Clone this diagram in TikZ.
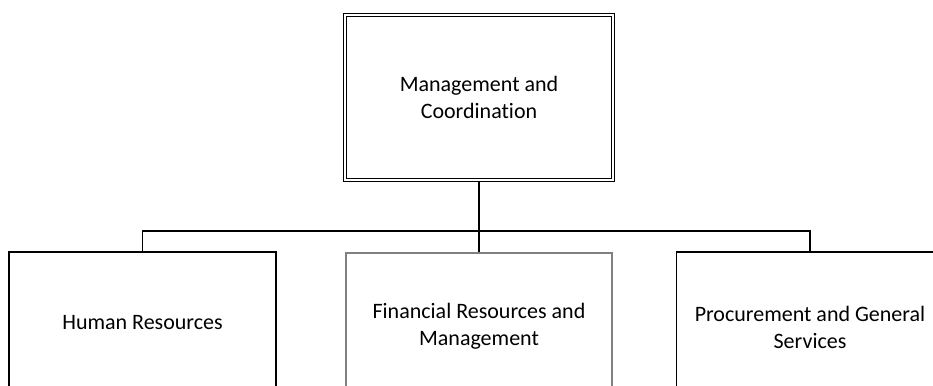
\documentclass[tikz,border=0pt]{standalone}
\usepackage{fontspec}
\setmainfont[Ligatures=NoCommon]{Carlito}
\begin{document}
\begin{tikzpicture}[x=1pt,y=-1pt,
  box/.style={draw, line width=1.1pt, rectangle, align=center, inner sep=0pt,
    font=\fontsize{22}{27}\selectfont},
  conn/.style={draw, line width=1.1pt}]
\useasboundingbox (0,0) rectangle (933,385);
\clip (0,0) rectangle (933,385);
\node[box, double, double distance=2.4pt, line width=1.2pt,
  minimum width=268pt, minimum height=165pt] (top) at (479,97.5)
  {Management and\\Coordination};
\node[box, minimum width=267pt, minimum height=142pt] (hr) at (142.5,323)
  {Human Resources};
\node[box, draw=black!50, minimum width=266pt, minimum height=147pt] (fin) at (479,326.5)
  {Financial Resources and\\Management};
\node[box, minimum width=267pt, minimum height=150pt] (proc) at (810,327)
  {Procurement and General\\Services};
\coordinate (bus) at (479,231);
\draw[conn] (top.south) -- (bus);
\draw[conn] (hr.north) |- (bus);
\draw[conn] (proc.north) |- (bus);
\draw[conn] (fin.north) -- (bus);
\end{tikzpicture}
\end{document}
